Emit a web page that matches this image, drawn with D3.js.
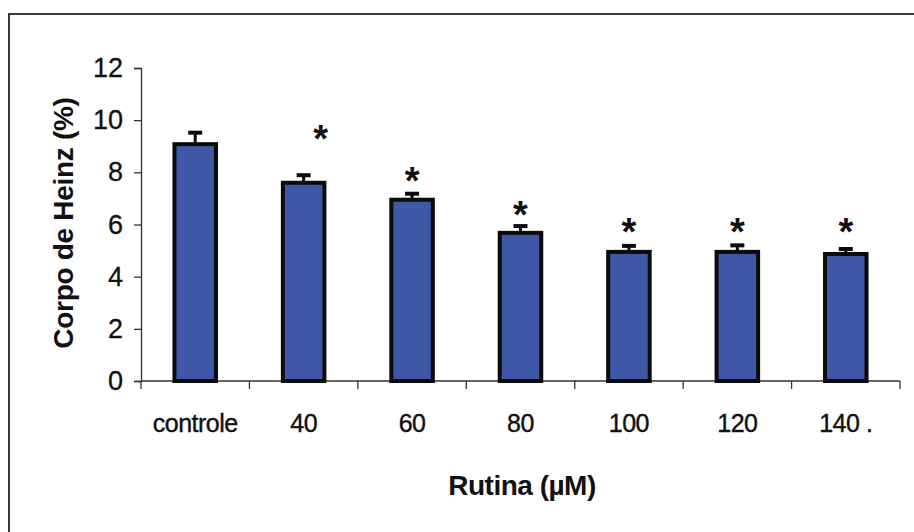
<!DOCTYPE html>
<html>
<head>
<meta charset="utf-8">
<script src="https://cdn.jsdelivr.net/npm/d3@7"></script>
<style>
  html, body { margin: 0; padding: 0; background: #fff; }
  svg { display: block; font-family: "Liberation Sans", Arial, sans-serif; }
</style>
</head>
<body>
<svg id="chart" width="914" height="532"></svg>
<script>
// Heinz body percentage per rutin concentration
const categories = ["controle", "40", "60", "80", "100", "120", "140 ."];
const meanValues = [9.08, 7.6, 6.95, 5.68, 4.95, 4.95, 4.87];
const errorValues = [0.44, 0.29, 0.23, 0.26, 0.23, 0.25, 0.19];
// level (in % units) of the significance mark above each group, null = none
const markLevels = [null, 9.58, 7.97, 6.67, 6.02, 6.02, 6.02];
const yTicks = [0, 2, 4, 6, 8, 10, 12];

const svg = d3.select("#chart");

// outer frame
svg.append("rect")
  .attr("x", 9).attr("y", 14)
  .attr("width", 920).attr("height", 540)
  .attr("fill", "none").attr("stroke", "#3a3a3a").attr("stroke-width", 2);

const plot = { left: 141, right: 900, top: 68, bottom: 381 };

const x = d3.scaleBand()
  .domain(categories)
  .range([plot.left, plot.right])
  .padding(0);

const y = d3.scaleLinear()
  .domain([0, 12])
  .range([plot.bottom, plot.top]);

const barW = x.bandwidth() * 0.383;
const cx = c => x(c) + x.bandwidth() / 2;

// y axis
const yAxis = svg.append("g")
  .attr("transform", `translate(${plot.left},0)`)
  .call(d3.axisLeft(y).tickValues(yTicks).tickSize(7).tickPadding(11).tickFormat(d3.format("d")));
yAxis.select(".domain").attr("stroke", "#333").attr("stroke-width", 1.3);
yAxis.selectAll(".tick line").attr("stroke", "#333").attr("stroke-width", 1.3);
yAxis.selectAll(".tick text")
  .attr("font-size", 27)
  .attr("fill", "#111")
  .attr("stroke", "#111").attr("stroke-width", 0.3)
  .attr("font-family", "'Liberation Sans', Arial, sans-serif");

// x axis: baseline with ticks on the group boundaries
const xAxis = svg.append("g");
xAxis.append("line")
  .attr("x1", plot.left).attr("x2", plot.right)
  .attr("y1", plot.bottom).attr("y2", plot.bottom)
  .attr("stroke", "#333").attr("stroke-width", 1.3);
const boundaries = categories.map(c => x(c)).concat([x(categories[categories.length - 1]) + x.bandwidth()]);
xAxis.selectAll("line.tk")
  .data(boundaries)
  .join("line")
  .attr("class", "tk")
  .attr("x1", d => d).attr("x2", d => d)
  .attr("y1", plot.bottom).attr("y2", plot.bottom + 8)
  .attr("stroke", "#333").attr("stroke-width", 1.3);

// category labels
svg.selectAll("text.xlab")
  .data(categories)
  .join("text")
  .attr("class", "xlab")
  .attr("x", d => cx(d))
  .attr("y", 432)
  .attr("text-anchor", "middle")
  .attr("font-size", 25)
  .attr("letter-spacing", -0.5)
  .attr("fill", "#111")
  .attr("stroke", "#111").attr("stroke-width", 0.4)
  .text(d => d);

// bars
svg.selectAll("rect.bar")
  .data(categories)
  .join("rect")
  .attr("class", "bar")
  .attr("x", d => cx(d) - barW / 2)
  .attr("width", barW)
  .attr("y", (d, i) => y(meanValues[i]))
  .attr("height", (d, i) => y(0) - y(meanValues[i]))
  .attr("fill", "#3e57a6")
  .attr("stroke", "#0b0b0b")
  .attr("stroke-width", 4);

// upper error bars
const errG = svg.append("g").attr("stroke", "#0b0b0b");
categories.forEach((c, i) => {
  const top = y(meanValues[i] + errorValues[i]);
  errG.append("line")
    .attr("x1", cx(c)).attr("x2", cx(c))
    .attr("y1", y(meanValues[i])).attr("y2", top)
    .attr("stroke-width", 3);
  errG.append("line")
    .attr("x1", cx(c) - 7).attr("x2", cx(c) + 7)
    .attr("y1", top).attr("y2", top)
    .attr("stroke-width", 4);
});

// significance marks
svg.selectAll("text.sig")
  .data(categories.map((c, i) => ({ c, i, v: markLevels[i] })).filter(d => d.v !== null))
  .join("text")
  .attr("class", "sig")
  .attr("x", d => cx(d.c) + (d.i === 1 ? 17 : 0))
  .attr("y", d => y(d.v) + 21)
  .attr("text-anchor", "middle")
  .attr("font-size", 38)
  .attr("font-weight", "bold")
  .attr("fill", "#111")
  .text("*");

// axis titles
svg.append("text")
  .attr("x", 522).attr("y", 495)
  .attr("text-anchor", "middle")
  .attr("font-size", 28)
  .attr("font-weight", "bold")
  .attr("letter-spacing", -0.5)
  .attr("fill", "#111")
  .text("Rutina (\u00b5M)");

svg.append("text")
  .attr("transform", "translate(73,223) rotate(-90)")
  .attr("text-anchor", "middle")
  .attr("font-size", 28)
  .attr("font-weight", "bold")
  .attr("letter-spacing", -0.3)
  .attr("fill", "#111")
  .text("Corpo de Heinz (%)");
</script>
</body>
</html>
